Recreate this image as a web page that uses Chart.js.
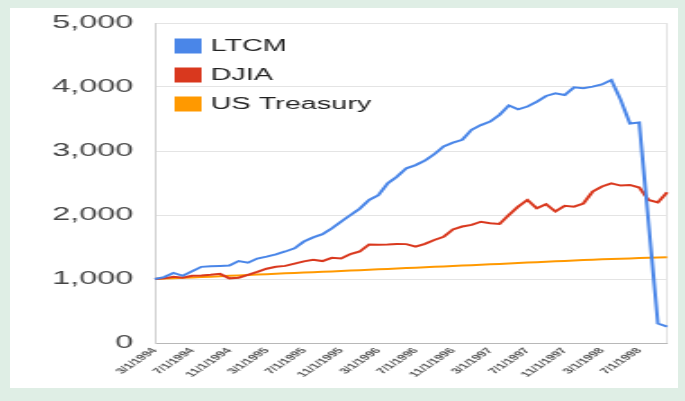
<!DOCTYPE html>
<html>
<head>
<meta charset="utf-8">
<script src="https://cdn.jsdelivr.net/npm/chart.js@4"></script>
<style>
  html, body { margin: 0; padding: 0; }
  body { width: 685px; height: 401px; background: #dfeee5; position: relative; overflow: hidden; }
  #panel { position: absolute; left: 10px; top: 8px; width: 668px; height: 380px; background: #fff; }
  /* the source picture is stretched sideways, so the chart is drawn narrow and widened */
  #wrap { position: absolute; left: 0; top: 0; width: 381px; height: 401px; transform: scaleX(1.8); transform-origin: 0 0; }
</style>
</head>
<body>
<div id="panel"></div>
<div id="wrap"><canvas id="chart" width="381" height="401"></canvas></div>
<script>
const months = [
  "3/1/1994", "4/1/1994", "5/1/1994", "6/1/1994", "7/1/1994", "8/1/1994", "9/1/1994", "10/1/1994", "11/1/1994", "12/1/1994",
  "1/1/1995", "2/1/1995", "3/1/1995", "4/1/1995", "5/1/1995", "6/1/1995", "7/1/1995", "8/1/1995", "9/1/1995", "10/1/1995", "11/1/1995", "12/1/1995",
  "1/1/1996", "2/1/1996", "3/1/1996", "4/1/1996", "5/1/1996", "6/1/1996", "7/1/1996", "8/1/1996", "9/1/1996", "10/1/1996", "11/1/1996", "12/1/1996",
  "1/1/1997", "2/1/1997", "3/1/1997", "4/1/1997", "5/1/1997", "6/1/1997", "7/1/1997", "8/1/1997", "9/1/1997", "10/1/1997", "11/1/1997", "12/1/1997",
  "1/1/1998", "2/1/1998", "3/1/1998", "4/1/1998", "5/1/1998", "6/1/1998", "7/1/1998", "8/1/1998", "9/1/1998", "10/1/1998"
];

const ltcm = [
  1000, 1030, 1095, 1050, 1120, 1190, 1200, 1205, 1210, 1280,
  1255, 1320, 1350, 1385, 1430, 1480, 1585, 1650, 1700, 1790, 1895, 2000,
  2100, 2235, 2310, 2495, 2600, 2730, 2780, 2850, 2950, 3070, 3130, 3175,
  3330, 3405, 3460, 3565, 3710, 3650, 3695, 3770, 3860, 3900, 3875, 3995,
  3980, 4005, 4040, 4110, 3800, 3430, 3445, 1875, 305, 255
];

const djia = [
  1000, 1010, 1035, 1020, 1050, 1055, 1065, 1080, 1010, 1020,
  1065, 1110, 1160, 1190, 1205, 1240, 1275, 1300, 1280, 1330, 1320, 1390,
  1430, 1540, 1535, 1540, 1548, 1545, 1505, 1550, 1610, 1660, 1775, 1820,
  1845, 1895, 1870, 1860, 2000, 2130, 2235, 2105, 2170, 2055, 2145, 2130,
  2180, 2365, 2445, 2495, 2460, 2470, 2430, 2235, 2195, 2355
];

const treasury = [
  1000, 1006, 1012, 1018, 1025, 1031, 1037, 1043, 1050, 1056,
  1062, 1069, 1075, 1081, 1088, 1094, 1100, 1106, 1113, 1119, 1125, 1132,
  1138, 1145, 1151, 1158, 1164, 1171, 1177, 1184, 1190, 1197, 1203, 1210,
  1216, 1223, 1229, 1236, 1243, 1249, 1256, 1263, 1269, 1276, 1283, 1290,
  1296, 1302, 1307, 1312, 1317, 1322, 1327, 1331, 1335, 1339
];

const seriesNames = ["LTCM", "DJIA", "US Treasury"];
const seriesColors = ["#4a86e8", "#d9381e", "#ff9900"];

// legend drawn inside the plot, top left, like the original
const insideLegend = {
  id: "insideLegend",
  afterDatasetsDraw(chart) {
    const { ctx, chartArea } = chart;
    ctx.save();
    ctx.font = "16px 'Liberation Sans', Arial, sans-serif";
    ctx.textBaseline = "middle";
    chart.data.datasets.forEach((ds, i) => {
      const cy = chartArea.top + 23 + i * 29;
      ctx.fillStyle = ds.borderColor;
      ctx.fillRect(chartArea.left + 11, cy - 7.5, 15, 15);
      ctx.fillStyle = "#222";
      ctx.fillText(ds.label, chartArea.left + 31, cy + 1);
    });
    ctx.restore();
  },
};

const lineData = [ltcm, djia, treasury];

new Chart(document.getElementById("chart"), {
  type: "line",
  data: {
    labels: months,
    datasets: lineData.map((values, i) => ({
      label: seriesNames[i],
      data: values,
      borderColor: seriesColors[i],
      backgroundColor: seriesColors[i],
      borderWidth: 2,
      pointRadius: 0,
      tension: 0,
    })),
  },
  options: {
    responsive: false,
    animation: false,
    layout: { padding: { top: 23, right: 10, left: 0, bottom: 0 } },
    plugins: {
      legend: { display: false },
      tooltip: { enabled: false },
    },
    scales: {
      x: {
        offset: false,
        border: { color: "#b8b8b8" },
        grid: {
          drawTicks: false,
          color: (c) => (c.index === months.length - 1 ? "#e2e2e2" : "rgba(0,0,0,0)"),
        },
        ticks: {
          autoSkip: false,
          minRotation: 50,
          maxRotation: 50,
          padding: 3,
          color: "#555",
          font: { family: "'Liberation Sans', Arial, sans-serif", size: 8, weight: "bold" },
          callback: (value, index) => (index % 4 === 0 ? months[index] : ""),
        },
        afterFit: (axis) => { axis.height = 58; },
      },
      y: {
        min: 0,
        max: 5000,
        border: { color: "#d0d0d0" },
        grid: { color: "#e4e4e4", drawTicks: false },
        ticks: {
          stepSize: 1000,
          padding: 12,
          color: "#444",
          font: { family: "'Liberation Sans', Arial, sans-serif", size: 18 },
          callback: (v) => v.toLocaleString("en-US"),
        },
        afterFit: (axis) => { axis.width = 86; },
      },
    },
  },
  plugins: [insideLegend],
});
</script>
</body>
</html>
